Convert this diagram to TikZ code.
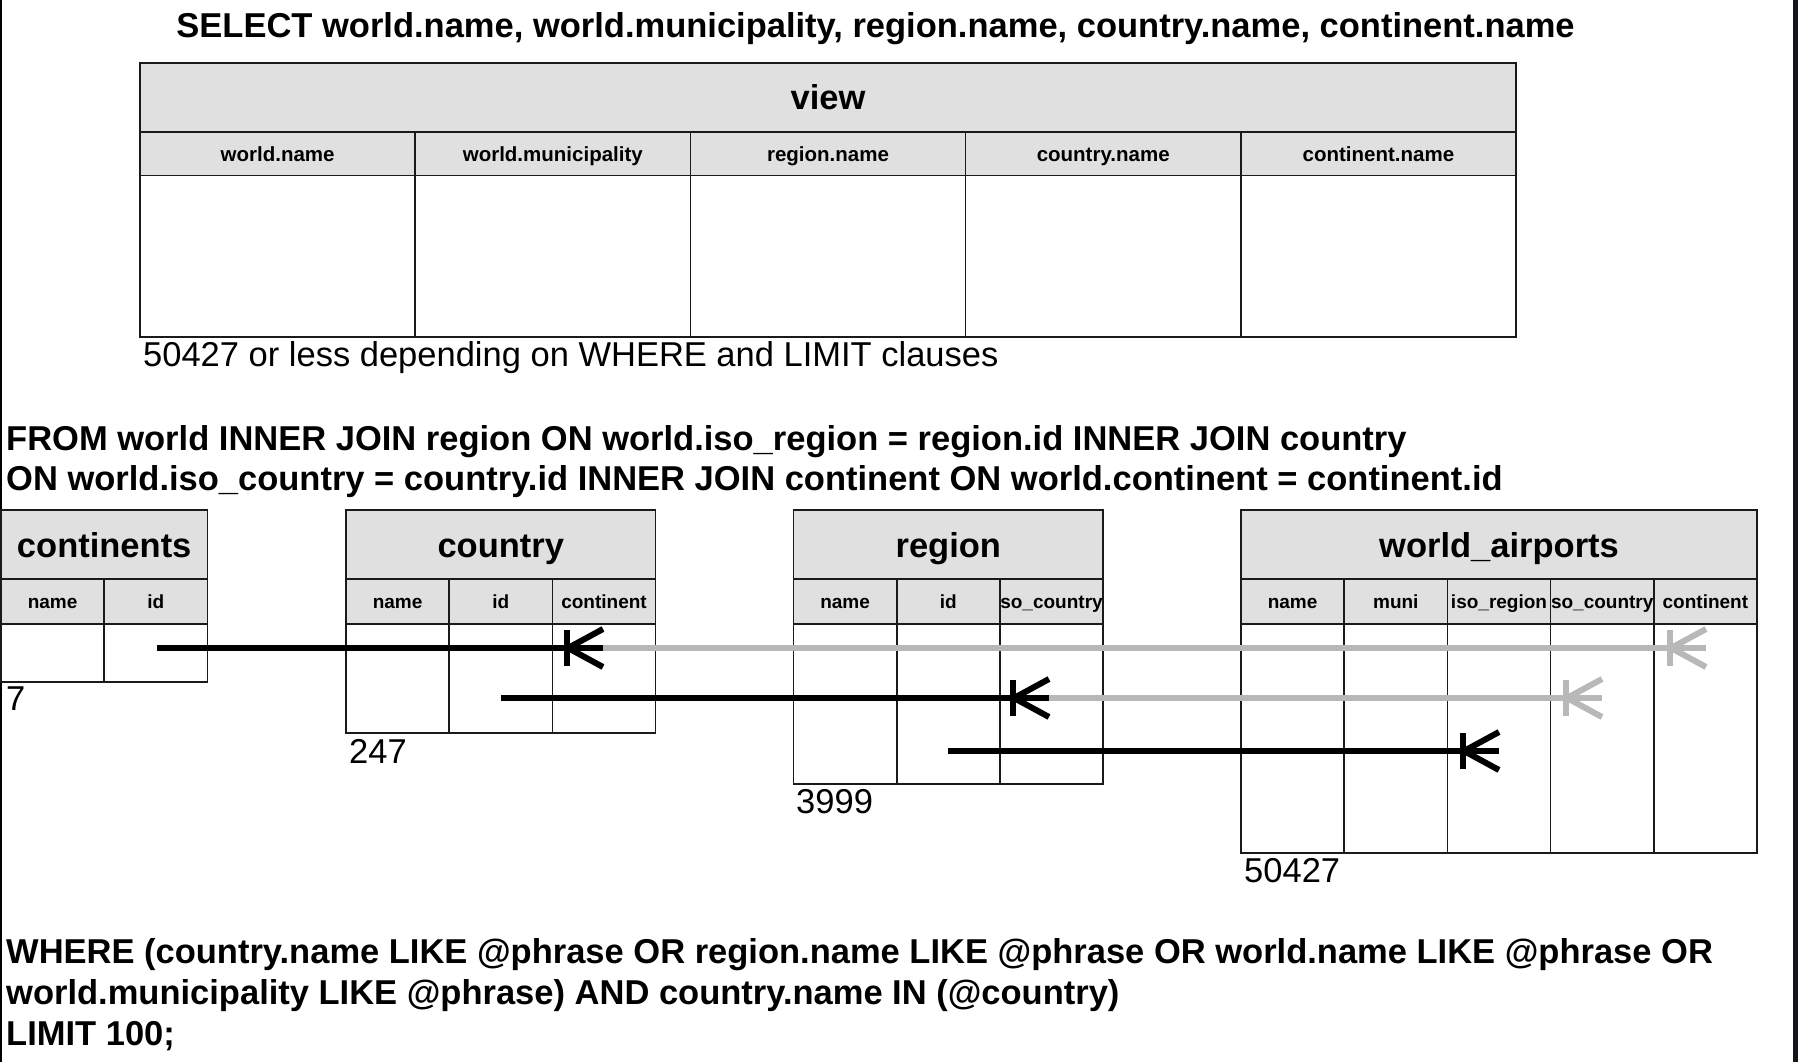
\documentclass[tikz,border=0pt]{standalone}
\usepackage{fontspec}
\setmainfont{Liberation Sans}
\definecolor{hdrfill}{HTML}{E0E0E0}
\definecolor{linec}{HTML}{1A1A1A}
\definecolor{ghost}{HTML}{B8B8B8}
\definecolor{edgec}{HTML}{121519}
\begin{document}
\begin{tikzpicture}[x=1pt,y=-1pt,
  tbl/.style={draw=linec, line width=1.7pt, anchor=north west, inner sep=0pt, outer sep=0pt, text=black},
  hdr/.style={tbl, fill=hdrfill, font=\bfseries\fontsize{34.5}{40}\selectfont, text height=25pt, text depth=0pt},
  sub/.style={tbl, fill=hdrfill, font=\bfseries\fontsize{19}{22}\selectfont, text height=13.8pt, text depth=0pt},
  vsub/.style={tbl, fill=hdrfill, font=\bfseries\fontsize{20.5}{24}\selectfont, text height=14.9pt, text depth=0pt},
  cellb/.style={tbl, fill=white},
  txt/.style={anchor=base west, inner sep=0pt, font=\bfseries\fontsize{34.5}{40}\selectfont},
  num/.style={anchor=base west, inner sep=0pt, font=\fontsize{34.5}{40}\selectfont},
  fkline/.style={line width=6.5pt, black},
  ghostline/.style={line width=6pt, ghost},
  crow/.pic={
    \draw[line width=6.5pt] (-36,-18) -- (-36,18);
    \draw[line width=6pt, line join=miter] (0,-19) -- (-35,0) -- (0,19);
  }]
\useasboundingbox (0,0) rectangle (1798,1062);
\fill[white] (0,0) rectangle (1798,1062);
\fill[black] (0,0) rectangle (2,1062);
\fill[edgec] (1793,0) rectangle (1798,1062);

% title
\node[txt, anchor=base] (select) at (875.5,38) {SELECT world.name, world.municipality, region.name, country.name, continent.name};

% view table
\node[hdr, minimum width=1376pt, minimum height=69pt] (view) at (140,63) {view};
\foreach \t [count=\i from 0] in {world.name, world.municipality, region.name, country.name, continent.name} {
  \node[vsub, minimum width=275.2pt, minimum height=43.5pt] (vh\i) at ({140+\i*275.2},132) {\t};
  \node[cellb, minimum width=275.2pt, minimum height=161.5pt] (vb\i) at ({140+\i*275.2},175.5) {};
}
\node[num] (vcount) at (143,366) {50427 or less depending on WHERE and LIMIT clauses};

% FROM clause
\node[txt] (from1) at (6,450) {FROM world INNER JOIN region ON world.iso\_region = region.id INNER JOIN country};
\node[txt] (from2) at (6,490) {ON world.iso\_country = country.id INNER JOIN continent ON world.continent = continent.id};

% continents
\node[hdr, minimum width=206.4pt, minimum height=69pt] (contT) at (1,510) {continents};
\foreach \t [count=\i from 0] in {name, id} {
  \node[sub, minimum width=103.2pt, minimum height=45pt] (contH\i) at ({1+\i*103.2},579) {\t};
  \node[cellb, minimum width=103.2pt, minimum height=58pt] (contB\i) at ({1+\i*103.2},624) {};
}
\node[num] (n7) at (6,710) {7};

% country
\node[hdr, minimum width=309.6pt, minimum height=69pt] (ctryT) at (346,510) {country};
\foreach \t [count=\i from 0] in {name, id, continent} {
  \node[sub, minimum width=103.2pt, minimum height=45pt] (ctryH\i) at ({346+\i*103.2},579) {\t};
  \node[cellb, minimum width=103.2pt, minimum height=109pt] (ctryB\i) at ({346+\i*103.2},624) {};
}
\node[num] (n247) at (349,763) {247};

% region
\node[hdr, minimum width=309.6pt, minimum height=69pt] (regT) at (793.5,510) {region};
\foreach \t [count=\i from 0] in {name, id, so\_country} {
  \node[sub, minimum width=103.2pt, minimum height=45pt] (regH\i) at ({793.5+\i*103.2},579) {\t};
  \node[cellb, minimum width=103.2pt, minimum height=160pt] (regB\i) at ({793.5+\i*103.2},624) {};
}
\node[num] (n3999) at (796,813) {3999};

% world_airports
\node[hdr, minimum width=516pt, minimum height=69pt] (wldT) at (1241,510) {world\_airports};
\foreach \t [count=\i from 0] in {name, muni, iso\_region, so\_country, continent} {
  \node[sub, minimum width=103.2pt, minimum height=45pt] (wldH\i) at ({1241+\i*103.2},579) {\t};
  \node[cellb, minimum width=103.2pt, minimum height=229pt] (wldB\i) at ({1241+\i*103.2},624) {};
}
\node[num] (n50427) at (1244,882) {50427};

% connectors
\coordinate (a1) at (157,648);
\coordinate (b1) at (603,648);
\coordinate (c1) at (1706,648);
\coordinate (a2) at (501,698);
\coordinate (b2) at (1049,698);
\coordinate (c2) at (1602,698);
\coordinate (a3) at (948,751);
\coordinate (b3) at (1499,751);

\draw[ghostline] (b1) -- (c1);
\pic[color=ghost] at (c1) {crow};
\draw[ghostline] (b2) -- (c2);
\pic[color=ghost] at (c2) {crow};

\draw[fkline] (a1) -- (b1);
\pic[color=black] at (b1) {crow};
\draw[fkline] (a2) -- (b2);
\pic[color=black] at (b2) {crow};
\draw[fkline] (a3) -- (b3);
\pic[color=black] at (b3) {crow};

% WHERE clause
\node[txt] (where1) at (6,963) {WHERE (country.name LIKE @phrase OR region.name LIKE @phrase OR world.name LIKE @phrase OR};
\node[txt] (where2) at (6,1004) {world.municipality LIKE @phrase) AND country.name IN (@country)};
\node[txt] (where3) at (6,1045) {LIMIT 100;};
\end{tikzpicture}
\end{document}
